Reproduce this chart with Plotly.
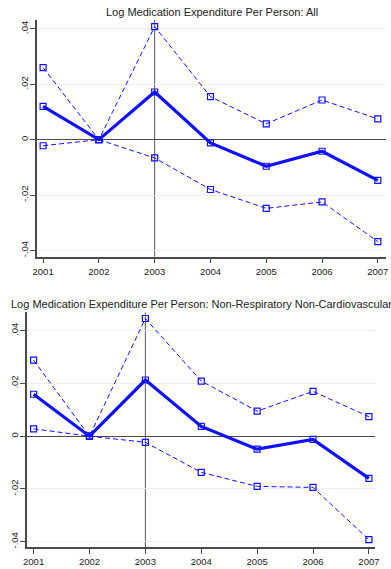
import plotly.graph_objects as go

# Years of the study period
years = [2001, 2002, 2003, 2004, 2005, 2006, 2007]

# Panel 1: all medications (point estimate with upper / lower confidence bounds)
all_est = [0.0120, 0.0, 0.0172, -0.0012, -0.0096, -0.0042, -0.0147]
all_hi = [0.0260, 0.0, 0.0408, 0.0155, 0.0057, 0.0143, 0.0075]
all_lo = [-0.0022, 0.0, -0.0066, -0.0180, -0.0248, -0.0225, -0.0368]

# Panel 2: non-respiratory, non-cardiovascular medications
nrc_est = [0.0159, 0.0, 0.0213, 0.0037, -0.0049, -0.0012, -0.0160]
nrc_hi = [0.0288, 0.0, 0.0446, 0.0209, 0.0095, 0.0170, 0.0074]
nrc_lo = [0.0028, 0.0, -0.0023, -0.0137, -0.0190, -0.0194, -0.0392]

titles = [
    "Log Medication Expenditure Per Person: All",
    "Log Medication Expenditure Per Person: Non-Respiratory Non-Cardiovascular",
]
ytick_vals = [-0.04, -0.02, 0, 0.02, 0.04]
ytick_text = ["-.04", "-.02", "0", ".02", ".04"]

W, H = 391, 569
BLUE = "#1010ff"
AXIS = "#4a4a4a"
GRID = "#e8f0f2"
FONT = "Liberation Sans, Arial, sans-serif"

fig = go.Figure()

panels = [
    # (est, hi, lo, x-left px, x-right px, y-top px, y-bottom px, xrange, yrange, title y px)
    (all_est, all_hi, all_lo, 33, 390, 20, 257, [2000.895, 2007.147], [-0.0422, 0.0432], 12),
    (nrc_est, nrc_hi, nrc_lo, 22.7, 379, 313, 548, [2000.885, 2007.114], [-0.0420, 0.0469], 305),
]

for i, (est, hi, lo, xl, xr, yt, yb, xrng, yrng, ty) in enumerate(panels):
    xa = "x" if i == 0 else f"x{i+1}"
    ya = "y" if i == 0 else f"y{i+1}"
    for vals, width, dash in [(hi, 1, "5px,3px"), (lo, 1, "5px,3px"), (est, 3.2, "solid")]:
        fig.add_trace(go.Scatter(
            x=years, y=vals, xaxis=xa, yaxis=ya, mode="lines+markers",
            line=dict(color=BLUE, width=width, dash=dash),
            marker=dict(symbol="square-open", size=6, color=BLUE, line=dict(width=1.2, color=BLUE)),
            showlegend=False, hoverinfo="skip",
        ))
    key = "" if i == 0 else str(i + 1)
    fig.layout["xaxis" + key] = dict(
        domain=[xl / W, xr / W], range=xrng, anchor=ya,
        tickvals=years, ticktext=[str(y) for y in years],
        ticks="outside", ticklen=5, tickcolor=AXIS, tickwidth=1,
        showline=True, linecolor=AXIS, linewidth=1.5,
        showgrid=False, zeroline=False,
        tickfont=dict(family=FONT, size=9.5, color="#222"),
    )
    fig.layout["yaxis" + key] = dict(
        domain=[1 - yb / H, 1 - yt / H], range=yrng, anchor=xa,
        tickvals=ytick_vals, ticktext=ytick_text, tickangle=-90,
        ticks="outside", ticklen=5, tickcolor=AXIS, tickwidth=1,
        ticklabelstandoff=-1,
        showline=True, linecolor=AXIS, linewidth=1.5,
        showgrid=True, gridcolor=GRID, gridwidth=1,
        zeroline=True, zerolinecolor=AXIS, zerolinewidth=1,
        tickfont=dict(family=FONT, size=9.5, color="#222"),
    )
    # Reference line at the 2003 policy year
    fig.add_shape(type="line", xref=xa, yref=ya + " domain", x0=2003, x1=2003, y0=0, y1=1,
                  line=dict(color="#555", width=1), layer="below")
    fig.add_annotation(
        text=titles[i], xref="paper", yref="paper",
        x=((xl + xr) / 2) / W, y=1 - ty / H, xanchor="center", yanchor="middle",
        showarrow=False, font=dict(family=FONT, size=11, color="#222"),
    )

fig.update_layout(
    width=W, height=H, margin=dict(l=0, r=0, t=0, b=0),
    paper_bgcolor="white", plot_bgcolor="white",
)

fig.write_html("out.html")
